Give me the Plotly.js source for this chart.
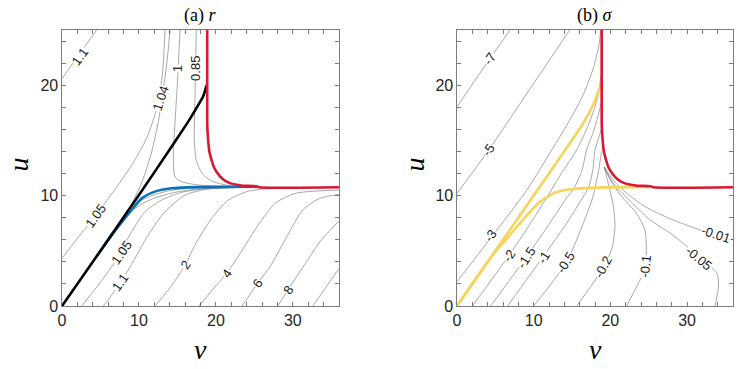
<!DOCTYPE html>
<html>
<head>
<meta charset="utf-8">
<script src="https://cdn.plot.ly/plotly-3.0.1.min.js"></script>
<style>
html, body { margin: 0; padding: 0; background: #fff; }
#myDiv { width: 747px; height: 369px; }
</style>
</head>
<body>
<div id="myDiv"></div>
<script>
// ---- panel (a): contours of r, points are [v, u] ----
var r110a = [[0, 20.6], [2.3, 22.85], [4.5, 25]];
var r105a = [[0, 4.32], [2.2, 6.3], [4.29, 8.09], [6.67, 10.36], [9.06, 12.77], [11.0, 15.19], [12.3, 17.9], [13.04, 20.9], [13.39, 25]];
var r104 = [[9.14, 9.3], [10.57, 11.56], [11.66, 13.98], [12.52, 16.7], [12.95, 18.66], [13.6, 21.83], [14.04, 25]];
var r100 = [[15.34, 25], [15.1, 21.5], [14.8, 17.9], [14.55, 15.0], [14.47, 13.4], [14.69, 11.7], [15.55, 11.26], [17.72, 10.96], [20, 10.85], [22, 10.8]];
var r085 = [[17.45, 25], [17.3, 19.4], [17.2, 14.9], [17.5, 13.07], [18.37, 11.87], [19.67, 11.26], [22.05, 10.85]];
var rUnder1 = [[9.13, 9.05], [10.5, 9.65], [12.1, 10.1], [14, 10.45], [16.4, 10.65], [20, 10.74], [23, 10.77]];
var rUnder2 = [[9.4, 8.8], [10.8, 9.4], [12.1, 9.8], [13.8, 10.15], [15.5, 10.4], [18, 10.62], [21, 10.72], [24, 10.76]];
var r105b = [[2.56, 0], [4.72, 1.9], [6.89, 4.0], [9.06, 6.73], [10.79, 8.54], [12.95, 9.6], [15.55, 10.3], [18.6, 10.62], [23, 10.74]];
var r110b = [[5.37, 0], [7.54, 2.05], [9.49, 4.32], [11.2, 6.43], [13.39, 8.54], [16.0, 10.05], [18.6, 10.55], [22, 10.72], [26, 10.76]];
var r2 = [[12.1, 0], [14.2, 1.8], [16.0, 3.71], [17.29, 5.53], [19.45, 7.94], [21.62, 9.6], [24.2, 10.4], [27.25, 10.66], [31, 10.74]];
var r4 = [[17.8, 0], [19.6, 1.5], [21.4, 2.96], [23.3, 4.92], [25.5, 7.34], [27.7, 9.3], [30.3, 10.2], [33.3, 10.42], [36, 10.5]];
var r6 = [[23.4, 0], [25.45, 2.08], [27.0, 3.53], [29.2, 6.25], [31.3, 8.7], [33.5, 9.75], [36, 10.1]];
var r8 = [[28.05, 0], [29.35, 1.45], [31.3, 3.5], [33.5, 5.8], [36, 7.7]];
var r10 = [[32.6, 0], [34.2, 1.6], [36, 3.4]];

// trajectories
var blackCurve = [[0, 0], [5, 5], [10, 10.05], [14.5, 14.7], [16.4, 16.7], [17.7, 18.2], [18.35, 19.0], [18.8, 20.0]];
var blueCurve = [[4.5, 4.5], [6, 5.95], [7, 6.9], [8, 7.8], [9, 8.65], [10.36, 9.75], [12.09, 10.36], [14.25, 10.66], [16.4, 10.75], [20, 10.79], [25.5, 10.8]];
var redCurve = [[18.87, 25], [18.87, 17], [18.9, 16], [19.0, 15], [19.15, 14], [19.45, 13.2], [19.8, 12.5], [20.3, 11.95], [20.9, 11.5], [21.6, 11.2], [22.5, 11.0], [23.5, 10.9], [25.2, 10.85], [25.6, 10.76], [36, 10.76]];

// ---- panel (b): contours of sigma ----
var s7 = [[0, 18.05], [3.4, 21.5], [6.9, 25]];
var s5 = [[0, 10.2], [4.1, 14.1], [7.8, 17.9], [11.3, 21.5], [14.7, 25]];
var s3 = [[0, 2.2], [4.5, 6.25], [9.1, 10.5], [12.35, 14.13], [14.5, 16.6], [16.5, 19.2], [17.8, 21.6], [18.5, 23.6], [18.75, 25]];
var s2 = [[2.0, 0], [6.7, 4.5], [9.5, 7.4], [11.5, 9.6], [13.6, 12.0], [15.6, 14.13], [17.2, 16.5], [18.3, 18.8], [18.8, 21]];
var s15 = [[4.4, 0], [9.1, 4.5], [12.2, 7.6], [14.2, 9.7], [15.2, 10.6], [16.3, 12.3], [16.9, 14.13], [17.8, 15.8], [18.5, 17.5], [18.85, 18.5]];
var s1 = [[6.6, 0], [11.26, 4.5], [14.2, 7.4], [16.2, 9.6], [17.2, 10.8], [17.7, 12.3], [18.0, 14.13], [18.5, 15.3], [18.85, 16]];
var s05 = [[10, 0], [14.3, 4.0], [16.3, 7.2], [17.6, 9.6], [18.0, 10.7], [18.5, 12.4], [18.85, 14]];
var s02 = [[15.6, 0], [18.9, 3.26], [20.2, 5.2], [20.6, 7.2], [20.4, 9.0], [19.9, 10.6], [19.4, 12.0], [19.2, 12.6]];
var s01 = [[22.1, 0], [24.5, 3.4], [24.7, 5.07], [24.5, 6.9], [23.4, 8.4], [21.5, 9.9], [20.0, 11.4], [19.2, 12.6]];
var s005 = [[33.65, 0], [34.1, 1.75], [33.9, 3.0], [31.7, 4.3], [30.0, 5.4], [27.8, 6.6], [25.2, 7.8], [22.6, 9.5], [20.3, 11.2], [19.2, 12.6]];
var s001 = [[19.2, 12.6], [20.5, 11.3], [22, 10.3], [24.3, 9.1], [27.8, 7.9], [31.7, 6.9], [36, 6.0]];

var yellowUpper = [[0, 0], [5, 5], [10, 10], [14.1, 14.13], [16.5, 16.6], [17.8, 18.3], [18.8, 20.1]];
var yellowLower = [[0, 0], [4, 4], [5, 4.92], [6.3, 5.95], [7.3, 6.75], [8.4, 7.65], [9.5, 8.5], [10.6, 9.3], [11.7, 9.85], [12.8, 10.27], [14, 10.48], [15, 10.57], [17, 10.7], [19.3, 10.75], [25, 10.78]];

// contour label text: [text, v, u, angle]
var rLabels = [
  ['1.1', 2.34, 22.6, -54], ['1.04', 12.87, 18.75, -72], ['1', 15.0, 21.5, -88], ['0.85', 17.32, 21.5, -90],
  ['1.05', 4.29, 8.15, -54], ['1.05', 7.75, 4.85, -55], ['1.1', 7.54, 2.15, -55],
  ['2', 16.1, 3.75, -55], ['4', 21.4, 2.96, -55], ['6', 25.4, 2.05, -55], ['8', 29.5, 1.45, -55]
];
var sLabels = [
  ['-7', 4.3, 22.4, -55], ['-5', 4.1, 14.2, -55], ['-3', 4.4, 6.35, -55], ['-2', 6.8, 4.6, -55],
  ['-1.5', 9.05, 4.4, -57], ['-1', 11.3, 4.4, -57], ['-0.5', 14.2, 3.9, -58], ['-0.2', 19.0, 3.5, -62],
  ['-0.1', 24.55, 3.6, -84], ['-0.05', 31.6, 4.3, 40], ['-0.01', 33.8, 6.45, 18]
];

var gray = '#7a7a7a';
function line(pts, xa, ya, color, width) {
  return {
    x: pts.map(function (p) { return p[0]; }),
    y: pts.map(function (p) { return p[1]; }),
    xaxis: xa, yaxis: ya, mode: 'lines', hoverinfo: 'skip', showlegend: false,
    line: {color: color, width: width, shape: 'spline', smoothing: 0.7}
  };
}

var data = [];
[r110a, r105a, r104, r100, r085, rUnder1, rUnder2, r105b, r110b, r2, r4, r6, r8, r10].forEach(function (c) {
  data.push(line(c, 'x', 'y', gray, 0.65));
});
data.push(line(blueCurve, 'x', 'y', '#0a72ba', 2.6));
data.push(line(blackCurve, 'x', 'y', '#000000', 2.6));
data.push(line(redCurve, 'x', 'y', '#d71932', 2.6));

[s7, s5, s3, s2, s15, s1, s05, s02, s01, s005, s001].forEach(function (c) {
  data.push(line(c, 'x2', 'y2', gray, 0.65));
});
data.push(line(yellowLower, 'x2', 'y2', '#f6d35a', 2.6));
data.push(line(yellowUpper, 'x2', 'y2', '#f6d35a', 2.6));
data.push(line(redCurve, 'x2', 'y2', '#d71932', 2.6));

function ticks(max, step, labelEvery) {
  var vals = [], text = [];
  for (var t = 0; t <= max; t += step) {
    vals.push(t);
    text.push(t % labelEvery === 0 ? String(t) : '');
  }
  return {vals: vals, text: text};
}
var xt = ticks(36, 2, 10), yt = ticks(24, 2, 10);

function axis(domain, range, t, anchor) {
  return {
    domain: domain, range: range, anchor: anchor,
    tickvals: t.vals, ticktext: t.text, ticks: 'inside', ticklen: 4, tickwidth: 0.6, tickcolor: '#262626',
    showline: true, linecolor: '#262626', linewidth: 0.6, mirror: 'ticks',
    showgrid: false, zeroline: false, fixedrange: true, automargin: false,
    tickfont: {family: 'Liberation Sans, Arial, sans-serif', size: 16, color: '#262626'}
  };
}

var annotations = [];
function addLabels(list, xref, yref) {
  list.forEach(function (l) {
    annotations.push({
      text: l[0], x: l[1], y: l[2], xref: xref, yref: yref, textangle: l[3],
      xanchor: 'center', yanchor: 'middle',
      showarrow: false, bgcolor: '#ffffff', borderpad: 0,
      font: {family: 'Liberation Sans, Arial, sans-serif', size: 13, color: '#1a1a1a'}
    });
  });
}
addLabels(rLabels, 'x', 'y');
addLabels(sLabels, 'x2', 'y2');

var serif = 'Liberation Serif, Times New Roman, serif';
function title(text, x, y, size, angle) {
  return {text: text, x: x, y: y, xref: 'paper', yref: 'paper', xanchor: 'center', yanchor: 'middle',
    textangle: angle, showarrow: false, font: {family: serif, size: size, color: '#000'}};
}
annotations.push(
  title('(a) <i>r</i>', 0.2684, 0.957, 18, 0),
  title('(b) <i>σ</i>', 0.7966, 0.957, 18, 0),
  title('<i>v</i>', 0.2684, 0.052, 28, 0),
  title('<i>v</i>', 0.7966, 0.052, 28, 0),
  title('<i>u</i>', 0.025, 0.553, 28, -90),
  title('<i>u</i>', 0.555, 0.553, 28, -90)
);

var layout = {
  width: 747, height: 369,
  margin: {l: 0, r: 0, t: 0, b: 0},
  paper_bgcolor: '#fff', plot_bgcolor: '#fff',
  xaxis: axis([0.083, 0.4538], [0, 36], xt, 'y'),
  yaxis: axis([0.1707, 0.9187], [0, 25], yt, 'x'),
  xaxis2: axis([0.6118, 0.9813], [0, 36], xt, 'y2'),
  yaxis2: axis([0.1707, 0.9187], [0, 25], yt, 'x2'),
  annotations: annotations
};

Plotly.newPlot('myDiv', data, layout, {displayModeBar: false, staticPlot: true});
</script>
</body>
</html>
